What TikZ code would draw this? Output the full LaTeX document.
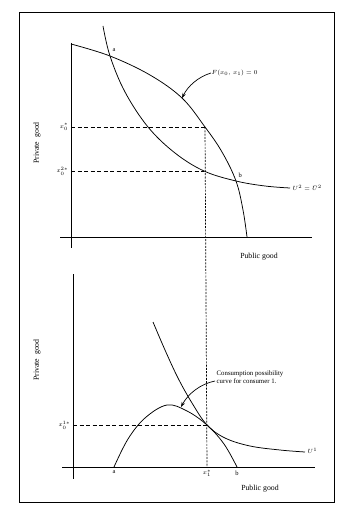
\documentclass[tikz,border=0pt]{standalone}
\usepackage{fontspec}
\setmainfont{Liberation Serif}
\usetikzlibrary{arrows.meta}
\begin{document}
\begin{tikzpicture}[x=1pt,y=-1pt,
  axis/.style={line width=0.8pt},
  curve/.style={line width=0.75pt},
  guide/.style={line width=0.7pt,dash pattern=on 4pt off 2.5pt},
  vguide/.style={line width=0.7pt,dash pattern=on 2pt off 1.3pt},
  lab/.style={inner sep=0.5pt,font=\fontsize{6.5}{7}\selectfont},
  axlab/.style={inner sep=0pt,font=\fontsize{7.8}{9}\selectfont},
  pointer/.style={line width=0.7pt,-{Stealth[length=5pt,width=3.5pt]}}]
\useasboundingbox (0,0) rectangle (341,516);
% frame
\draw[line width=0.9pt] (19,12) rectangle (334,502);

% ---------- top panel ----------
\coordinate (ty0) at (71,43);
\coordinate (ty1) at (71,248);
\coordinate (tx0) at (60,237);
\coordinate (tx1) at (312,237);
\draw[axis] (ty0) -- (ty1);
\draw[axis] (tx0) -- (tx1);

\coordinate (A) at (110,56);
\coordinate (B) at (236,181);
\coordinate (P1) at (205,127);
\coordinate (P2) at (204,171);
\coordinate (Fend) at (247,237);

% production frontier
\draw[curve] plot[smooth,tension=0.6] coordinates
  {(71,44) (110,56) (150,75) (182,98) (205,127) (222,152) (236,181) (243,210) (247,237)};
% indifference curve U^2
\draw[curve] plot[smooth,tension=0.6] coordinates
  {(103,26) (110,56) (125,92) (148,127) (175,153) (204,171) (236,181) (265,186) (290,188)};

\node[lab,anchor=south west] (la) at (112,52) {a};
\node[lab,anchor=south west] (lb) at (238,178) {b};
\node[lab,anchor=west] (lU2) at (292,188) {$U^2=\bar U^2$};
\node[lab,anchor=west] (lF) at (211,73) {$F(x_0,\,x_1)=0$};
\coordinate (Ftip) at (182,98);
\draw[pointer] (lF.west) .. controls (198,77) and (188,86) .. (Ftip);

\coordinate (Y1) at (71,127);
\coordinate (Y2) at (71,171);
\draw[guide] (Y1) -- (P1);
\draw[guide] (Y2) -- (P2);
\node[lab,anchor=east] (ly1) at (69,127) {$x_0^{*}$};
\node[lab,anchor=east] (ly2) at (69,171) {$x_0^{2*}$};
\node[axlab] (pub1) at (259,257) {Public good};
\node[axlab,rotate=90] (priv1) at (37,143) {Private\ \ good};

% ---------- bottom panel ----------
\coordinate (by0) at (73,274);
\coordinate (by1) at (73,479);
\coordinate (bx0) at (62,467);
\coordinate (bx1) at (315,467);
\draw[axis] (by0) -- (by1);
\draw[axis] (bx0) -- (bx1);

\coordinate (T) at (207,425);
\coordinate (Xs) at (207,467);
% consumption possibility curve
\draw[curve] plot[smooth,tension=0.6] coordinates
  {(114,467) (128,439) (145,418) (167,405) (187,411) (207,425) (224,444) (237,467)};
% indifference curve U^1
\draw[curve] plot[smooth,tension=0.6] coordinates
  {(153,322) (165,350) (178,378) (192,403) (207,425) (225,438) (250,446) (280,450) (305,452)};

\node[lab,anchor=west] (lU1) at (307,451) {$U^1$};
\node[lab,anchor=north] (lba) at (114,470) {a};
\node[lab,anchor=north] (lbb) at (237,470) {b};
\node[lab,anchor=north] (lx1) at (207,469) {$x_1^{*}$};
\node[lab,anchor=west,align=left,font=\fontsize{6.8}{7.4}\selectfont] (lC) at (216,377)
  {Consumption possibility\\curve for consumer 1.};
\coordinate (Ctip) at (181,407);
\draw[pointer] (215,381) .. controls (200,384) and (188,394) .. (Ctip);

\coordinate (Y3) at (73,425);
\draw[guide] (Y3) -- (T);
\node[lab,anchor=east] (ly3) at (71,425) {$x_0^{1*}$};
\node[axlab] (pub2) at (260,489) {Public good};
\node[axlab,rotate=90] (priv2) at (37,360) {Private\ \ good};

% vertical guide linking both panels
\draw[vguide] (P1) -- (Xs);
\end{tikzpicture}
\end{document}
